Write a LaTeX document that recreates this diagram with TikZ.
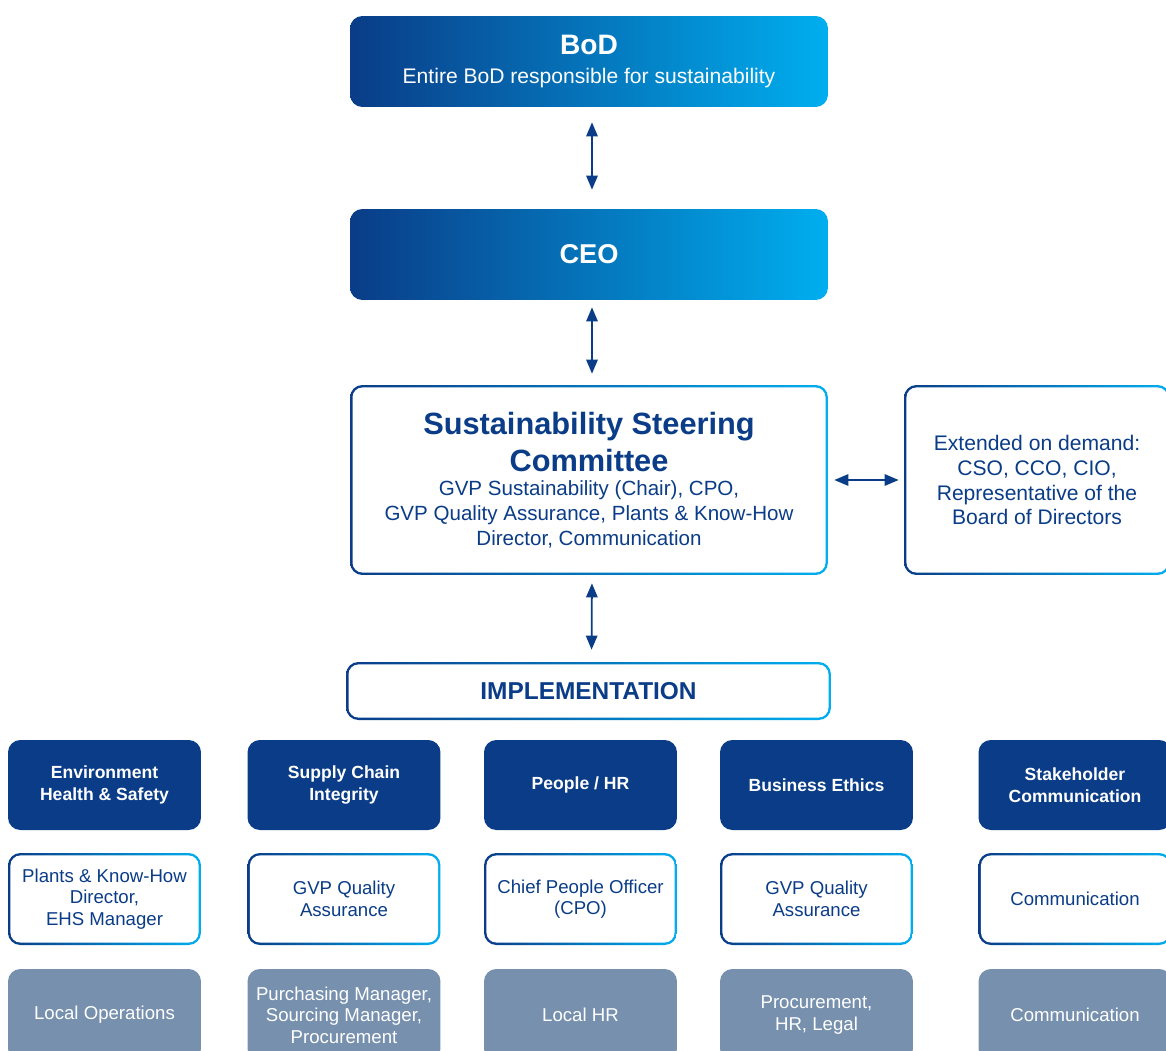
\documentclass[tikz,border=0pt]{standalone}
\usepackage{fontspec}
\setmainfont{Liberation Sans}
\usetikzlibrary{arrows.meta,positioning}
\definecolor{navy}{HTML}{0A3C87}
\definecolor{skyblue}{HTML}{00AEEF}
\definecolor{slate}{HTML}{7690AE}

\begin{document}
\begin{tikzpicture}[x=0.02cm, y=-0.02cm,
        base/.style={rectangle, rounded corners=7pt, align=center, inner sep=2pt},
        gradbox/.style={base, left color=navy, right color=skyblue, text=white, minimum width=9.56cm, minimum height=1.82cm},
        linebox/.style={base, left color=navy, right color=skyblue, text=navy,
            path picture={\fill[white, rounded corners=5.6pt] ([shift={(1.4pt,1.4pt)}]path picture bounding box.south west) rectangle ([shift={(-1.4pt,-1.4pt)}]path picture bounding box.north east);}},
        areabox/.style={base, fill=navy, text=white, font=\fontsize{10}{12.3}\selectfont\bfseries, minimum width=3.86cm, minimum height=1.8cm},
        ownerbox/.style={linebox, font=\fontsize{10.6}{12.3}\selectfont, minimum width=3.86cm, minimum height=1.84cm},
        localbox/.style={base, fill=slate, text=white, font=\fontsize{10.6}{12.3}\selectfont, minimum width=3.86cm, minimum height=1.84cm},
        link/.style={{Triangle[width=6.5pt,length=8pt]}-{Triangle[width=6.5pt,length=8pt]}, navy, line width=1pt},
    ]
        \useasboundingbox (0,0) rectangle (1166,1051);
        \clip (0,0) rectangle (1166,1051);

        % Governance chain
        \node[gradbox] (bod) at (589,61.5) {{\fontsize{16}{19}\selectfont\bfseries BoD}\\[4.5pt]{\fontsize{12}{14}\selectfont Entire BoD responsible for sustainability}};
        \node[gradbox, font=\fontsize{15.5}{18}\selectfont\bfseries] (ceo) at (589,254.5) {CEO};
        \node[linebox, minimum width=9.56cm, minimum height=3.8cm, font=\fontsize{11.7}{14}\selectfont] (ssc) at (589,480)
            {{\fontsize{17.5}{21}\selectfont\bfseries Sustainability Steering}\\[3.5pt]{\fontsize{17.5}{21}\selectfont\bfseries Committee}\\
             GVP Sustainability (Chair), CPO,\\GVP Quality Assurance, Plants \& Know-How\\Director, Communication};
        \node[linebox, minimum width=5.32cm, minimum height=3.8cm, font=\fontsize{12}{14.2}\selectfont] (ext) at (1037,480)
            {Extended on demand:\\CSO, CCO, CIO,\\Representative of the\\Board of Directors};
        \node[linebox, minimum width=9.7cm, minimum height=1.16cm, font=\fontsize{13.9}{16}\selectfont\bfseries] (impl) at (588.5,691) {IMPLEMENTATION};

        \draw[link, shorten <=0.3cm, shorten >=0.38cm] ([xshift=0.06cm]bod.south) -- ([xshift=0.06cm]ceo.north);
        \draw[link, shorten <=0.14cm, shorten >=0.22cm] ([xshift=0.06cm]ceo.south) -- ([xshift=0.06cm]ssc.north);
        \draw[link, shorten <=0.16cm, shorten >=0.24cm] ([xshift=0.06cm]ssc.south) -- ([xshift=0.06cm]impl.north);
        \draw[link, shorten <=0.12cm, shorten >=0.1cm] (ssc.east) -- (ext.west);

        % Focus areas
        \node[areabox] (ehs) at (104.5,785) {Environment\\Health \& Safety};
        \node[areabox] (supply) at (344,785) {Supply Chain\\Integrity};
        \node[areabox] (people) at (580.5,785) {People / HR};
        \node[areabox] (ethics) at (816.5,785) {Business Ethics};
        \node[areabox] (stake) at (1075,785) {Stakeholder\\Communication};

        % Responsible owners
        \node[ownerbox] (ehsown) at (104.5,899) {Plants \& Know-How\\Director,\\EHS Manager};
        \node[ownerbox] (supplyown) at (344,899) {GVP Quality\\Assurance};
        \node[ownerbox] (peopleown) at (580.5,899) {Chief People Officer\\(CPO)};
        \node[ownerbox] (ethicsown) at (816.5,899) {GVP Quality\\Assurance};
        \node[ownerbox] (stakeown) at (1075,899) {Communication};

        % Local level
        \node[localbox] (ehsloc) at (104.5,1015) {Local Operations};
        \node[localbox] (supplyloc) at (344,1015) {Purchasing Manager,\\Sourcing Manager,\\Procurement};
        \node[localbox] (peopleloc) at (580.5,1015) {Local HR};
        \node[localbox] (ethicsloc) at (816.5,1015) {Procurement,\\HR, Legal};
        \node[localbox] (stakeloc) at (1075,1015) {Communication};
    \end{tikzpicture}
\end{document}
